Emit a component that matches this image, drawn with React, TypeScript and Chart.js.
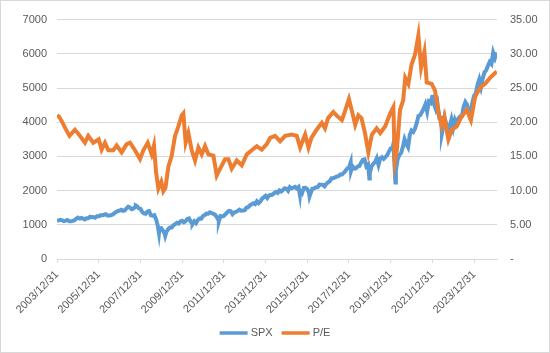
import React, { useEffect, useRef } from "react";
import { Chart, registerables } from "chart.js";

Chart.register(...registerables);

// S&P 500 month-end closes, starting 2003/12/31 (one value per month)
const spxMonthEnd = [
  1112,
  1131, 1145, 1126, 1107, 1121, 1141, 1102, 1104, 1115, 1130, 1174, 1212,
  1181, 1204, 1181, 1157, 1192, 1191, 1234, 1220, 1229, 1207, 1249, 1248,
  1280, 1281, 1295, 1311, 1270, 1270, 1277, 1304, 1336, 1378, 1401, 1418,
  1438, 1407, 1421, 1482, 1531, 1503, 1455, 1474, 1527, 1549, 1481, 1468,
  1379, 1331, 1323, 1386, 1400, 1280, 1267, 1283, 1166, 969, 896, 903,
  826, 735, 798, 873, 919, 919, 987, 1021, 1057, 1036, 1096, 1115,
  1074, 1104, 1169, 1187, 1089, 1031, 1102, 1049, 1141, 1183, 1181, 1258,
  1286, 1327, 1326, 1364, 1345, 1321, 1292, 1219, 1131, 1253, 1247, 1258,
  1312, 1366, 1408, 1398, 1310, 1362, 1379, 1407, 1441, 1412, 1416, 1426,
  1498, 1515, 1569, 1598, 1631, 1606, 1686, 1633, 1682, 1757, 1806, 1848,
  1783, 1859, 1872, 1884, 1924, 1960, 1931, 2003, 1972, 2018, 2068, 2059,
  1995, 2105, 2068, 2086, 2107, 2063, 2104, 1972, 1920, 2079, 2080, 2044,
  1940, 1932, 2060, 2065, 2097, 2099, 2174, 2171, 2168, 2126, 2199, 2239,
  2279, 2364, 2363, 2384, 2412, 2423, 2470, 2472, 2519, 2575, 2648, 2674,
  2824, 2714, 2641, 2648, 2705, 2718, 2816, 2902, 2914, 2712, 2760, 2507,
  2704, 2784, 2834, 2946, 2752, 2942, 2980, 2926, 2977, 3038, 3141, 3231,
  3226, 2954, 2585, 2912, 3044, 3100, 3271, 3500, 3363, 3270, 3622, 3756,
  3714, 3811, 3973, 4181, 4204, 4298, 4395, 4523, 4308, 4605, 4567, 4766,
  4516, 4374, 4530, 4132, 4132, 3785, 4130, 3955, 3586, 3872, 4080, 3840,
  4077, 3970, 4109, 4169, 4180, 4450, 4589, 4508, 4288, 4194, 4568, 4770,
  4846, 5096, 5254, 5036, 5278, 5460, 5522, 5648, 5762, 5705, 6032, 5882,
  6040,
];
const spxStartYear = 2004;

// intra-month highs / lows of SPX (decimal year, value)
const spxExtremeDates = [2007.78, 2008.89, 2009.19, 2010.5, 2011.76, 2015.65, 2016.11, 2018.1, 2018.98, 2020.14, 2020.23, 2022.0, 2022.46, 2022.79, 2023.82];
const spxExtremeValues = [1565, 752, 677, 1022, 1099, 1868, 1829, 2581, 2351, 3386, 2237, 4797, 3667, 3577, 4117];

// P/E ratio readings (decimal year, value)
const peDates = [
  2004.0, 2004.1, 2004.2, 2004.4, 2004.6, 2004.86, 2005.0, 2005.34, 2005.5, 2005.74,
  2006.0, 2006.14, 2006.3, 2006.46, 2006.7, 2006.86, 2007.1, 2007.34, 2007.5, 2007.74,
  2007.98, 2008.14, 2008.35, 2008.54, 2008.65, 2008.75, 2008.86, 2009.0, 2009.1, 2009.2,
  2009.34, 2009.5, 2009.66, 2009.82, 2009.98, 2010.06, 2010.17, 2010.3, 2010.46, 2010.62,
  2010.78, 2010.94, 2011.1, 2011.26, 2011.5, 2011.66, 2011.82, 2012.06, 2012.22, 2012.38,
  2012.62, 2012.86, 2013.1, 2013.34, 2013.58, 2013.82, 2014.06, 2014.22, 2014.46, 2014.7,
  2014.94, 2015.26, 2015.5, 2015.66, 2015.9, 2016.06, 2016.2, 2016.45, 2016.7, 2016.85,
  2017.0, 2017.25, 2017.4, 2017.66, 2017.8, 2018.0, 2018.13, 2018.3, 2018.45, 2018.6,
  2018.77, 2018.93, 2019.1, 2019.33, 2019.5, 2019.74, 2019.98, 2020.13, 2020.2, 2020.3,
  2020.45, 2020.6, 2020.7, 2020.85, 2021.0, 2021.17, 2021.33, 2021.46, 2021.62, 2021.73,
  2021.97, 2022.13, 2022.3, 2022.45, 2022.58, 2022.77, 2022.93, 2023.17, 2023.4, 2023.65,
  2023.85, 2024.05, 2024.3, 2024.53, 2024.77, 2025.09,
];
const peValues = [
  21.0, 20.8, 20.3, 19.1, 18.0, 18.9, 18.4, 17.0, 18.0, 17.0,
  17.5, 16.0, 17.0, 15.9, 15.9, 16.6, 15.6, 16.8, 17.0, 15.9,
  14.6, 15.9, 17.0, 15.3, 16.6, 12.7, 10.3, 11.3, 9.9, 10.4,
  13.5, 15.1, 18.0, 19.4, 21.0, 21.3, 17.0, 18.4, 15.9, 14.4,
  16.3, 15.3, 16.5, 15.3, 15.1, 12.2, 13.2, 14.6, 14.6, 13.2,
  14.4, 13.7, 15.3, 15.9, 16.5, 16.0, 16.8, 17.7, 18.0, 17.2,
  18.0, 18.2, 18.0, 16.3, 18.2, 16.3, 17.7, 18.9, 19.9, 19.1,
  20.6, 21.5, 21.0, 20.3, 21.5, 23.4, 21.8, 19.6, 21.0, 20.6,
  18.4, 15.6, 18.2, 19.1, 18.4, 19.4, 21.3, 22.2, 14.3, 16.0,
  21.8, 23.2, 26.5, 25.6, 28.4, 29.9, 32.7, 28.0, 30.3, 25.8,
  25.6, 24.6, 21.3, 19.4, 20.8, 17.5, 18.9, 19.4, 20.8, 21.8,
  20.3, 23.7, 25.1, 25.6, 26.5, 27.4,
];

const xTickYears = [2004, 2006, 2008, 2010, 2012, 2014, 2016, 2018, 2020, 2022, 2024];
const seriesNames = ["SPX", "P/E"];
const seriesColors = ["#5B9BD5", "#ED7D31"];

const FONT = "'Liberation Sans', Arial, sans-serif";
const TEXT = "#595959";
const GRID = "#D9D9D9";

export default function App() {
  const ref = useRef<HTMLCanvasElement | null>(null);

  useEffect(() => {
    if (!ref.current) return;
    const spxPoints = spxMonthEnd
      .map((v, i) => ({ x: spxStartYear + i / 12, y: v }))
      .concat(spxExtremeDates.map((d, i) => ({ x: d, y: spxExtremeValues[i] })))
      .sort((a, b) => a.x - b.x);
    const pePoints = peDates.map((d, i) => ({ x: d, y: peValues[i] }));

    const borderPlugin = {
      id: "frame",
      afterDraw(chart: any) {
        const ctx = chart.ctx;
        ctx.save();
        ctx.strokeStyle = GRID;
        ctx.lineWidth = 1;
        ctx.strokeRect(0.5, 0.5, chart.width - 1, chart.height - 1);
        // legend
        ctx.font = `11px ${FONT}`;
        ctx.textBaseline = "middle";
        const lineLen = 28, gap = 3, spacing = 9;
        const widths = seriesNames.map((n) => ctx.measureText(n).width);
        let total = 0;
        widths.forEach((w, i) => { total += lineLen + gap + w + (i < widths.length - 1 ? spacing : 0); });
        let x = chart.width / 2 - total / 2;
        const y = 333;
        seriesNames.forEach((n, i) => {
          ctx.strokeStyle = seriesColors[i];
          ctx.lineWidth = 3.5;
          ctx.lineCap = "butt";
          ctx.beginPath();
          ctx.moveTo(x, y);
          ctx.lineTo(x + lineLen, y);
          ctx.stroke();
          ctx.fillStyle = TEXT;
          ctx.textAlign = "left";
          ctx.fillText(n, x + lineLen + gap, y);
          x += lineLen + gap + widths[i] + spacing;
        });
        ctx.restore();
      },
    };

    const chart = new Chart(ref.current, {
      type: "line",
      data: {
        datasets: [
          {
            label: seriesNames[0],
            data: spxPoints,
            borderColor: seriesColors[0],
            backgroundColor: seriesColors[0],
            borderWidth: 4,
            pointRadius: 0,
            yAxisID: "y",
            order: 1,
          },
          {
            label: seriesNames[1],
            data: pePoints,
            borderColor: seriesColors[1],
            backgroundColor: seriesColors[1],
            borderWidth: 4,
            pointRadius: 0,
            yAxisID: "y1",
            order: 0,
          },
        ],
      },
      options: {
        animation: false,
        responsive: false,
        events: [],
        layout: { padding: { top: 14, left: 0, right: 0, bottom: 0 } },
        plugins: { legend: { display: false }, tooltip: { enabled: false } },
        scales: {
          x: {
            type: "linear",
            min: 2004,
            max: 2025.1,
            afterBuildTicks: (scale: any) => {
              scale.ticks = xTickYears.map((v) => ({ value: v }));
            },
            afterFit: (scale: any) => {
              scale.height = 94;
            },
            grid: { drawOnChartArea: false, drawTicks: true, tickLength: 4, color: GRID },
            border: { color: GRID },
            ticks: {
              autoSkip: false,
              minRotation: 45,
              maxRotation: 45,
              padding: 5,
              color: TEXT,
              font: { family: FONT, size: 11 },
              callback: (v: any) => `${Number(v) - 1}/12/31`,
            },
          },
          y: {
            position: "left",
            min: 0,
            max: 7000,
            afterFit: (scale: any) => {
              scale.width = 57;
            },
            grid: { color: GRID, drawTicks: false },
            border: { display: false },
            ticks: {
              stepSize: 1000,
              padding: 10,
              color: TEXT,
              font: { family: FONT, size: 11 },
              callback: (v: any) => String(v),
            },
          },
          y1: {
            position: "right",
            min: 0,
            max: 35,
            afterFit: (scale: any) => {
              scale.width = 53;
            },
            grid: { display: false, drawTicks: false },
            border: { display: false },
            ticks: {
              stepSize: 5,
              padding: 13,
              color: TEXT,
              font: { family: FONT, size: 11 },
              callback: (v: any) => (Number(v) === 0 ? "-" : Number(v).toFixed(2)),
            },
          },
        },
      },
      plugins: [borderPlugin],
    });
    return () => chart.destroy();
  }, []);

  return (
    <div style={{ position: "fixed", left: 0, top: 0, width: 550, height: 353, background: "#fff" }}>
      <canvas ref={ref} width={550} height={353} style={{ display: "block", width: 550, height: 353 }} />
    </div>
  );
}
